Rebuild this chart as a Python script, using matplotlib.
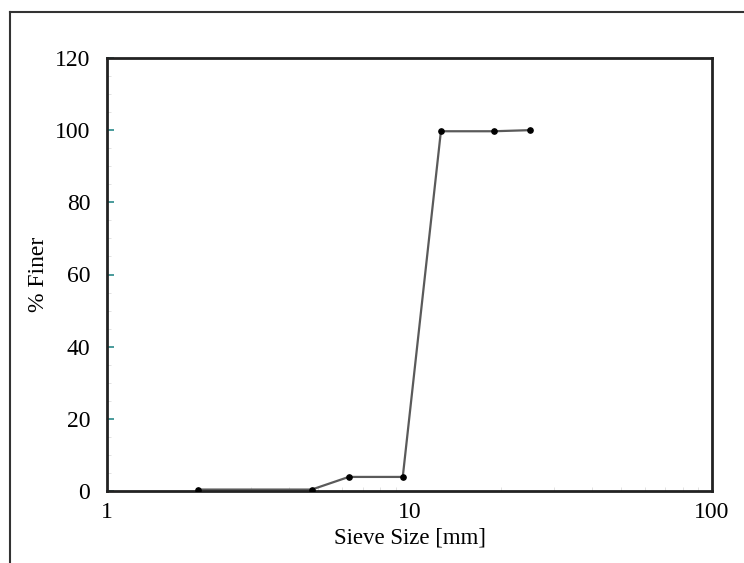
import numpy as np
import matplotlib.pyplot as plt
from matplotlib.lines import Line2D
from matplotlib.ticker import FixedLocator, NullFormatter

sieve_mm = [2.0, 4.75, 6.3, 9.5, 12.7, 19.0, 25.0]
pct_finer = [0.4, 0.4, 3.9, 3.9, 99.7, 99.7, 100.0]
x_ticks = [1, 10, 100]
y_ticks = [0, 20, 40, 60, 80, 100, 120]

plt.rcParams['font.family'] = ['Liberation Serif', 'DejaVu Serif']

fig = plt.figure(figsize=(7.44, 5.63), dpi=100)
ax = fig.add_axes([107/744, 1 - 491/563, (712-107)/744, (491-58)/563])

ax.plot(sieve_mm, pct_finer, '-', color='#5a5a5a', lw=1.6, zorder=2)
ax.plot(sieve_mm, pct_finer, 'o', color='black', ms=3.8, zorder=3)

ax.set_xscale('log')
ax.set_xlim(1, 100)
ax.set_ylim(0, 120)
ax.set_xticks(x_ticks)
ax.set_xticklabels([str(t) for t in x_ticks])
ax.xaxis.set_minor_formatter(NullFormatter())
ax.set_yticks(y_ticks)
ax.yaxis.set_minor_locator(FixedLocator(np.arange(0, 121, 5)))

ax.tick_params(axis='y', which='major', direction='in', length=5, width=1.2,
               color='#2a8a8a', labelsize=17, pad=12)
ax.tick_params(axis='x', which='major', direction='in', length=0,
               labelsize=17, pad=8)
ax.tick_params(which='minor', direction='in', length=3, width=0.6, color='#dddddd')

for s in ax.spines.values():
    s.set_linewidth(2)
    s.set_color('#222222')

ax.set_xlabel('Sieve Size [mm]', fontsize=16.5, labelpad=3)
ax.set_ylabel('% Finer', fontsize=17, labelpad=4)

# partial outer frame (top and left)
fig.add_artist(Line2D([10/744, 1], [1 - 12/563, 1 - 12/563], color='#333333', lw=1.5))
fig.add_artist(Line2D([10/744, 10/744], [0, 1 - 12/563], color='#333333', lw=1.5))

fig.savefig('out.png', dpi=100)
